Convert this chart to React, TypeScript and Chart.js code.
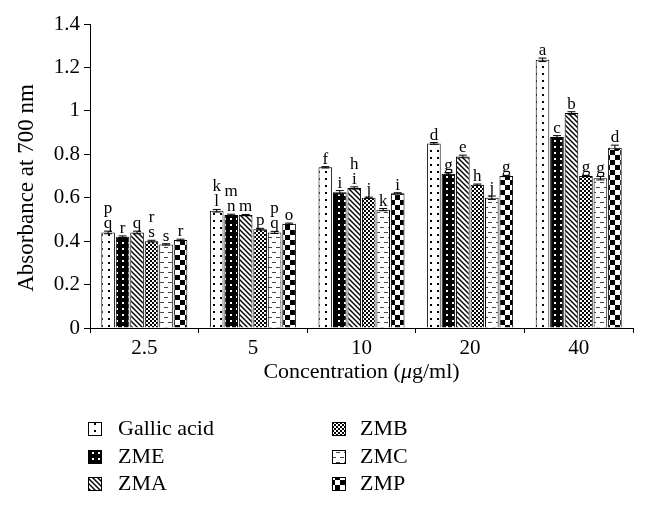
import React, { useEffect, useRef } from "react";
import { Chart, registerables } from "chart.js";

Chart.register(...registerables);

const categories = ["2.5", "5", "10", "20", "40"];
const seriesNames = ["Gallic acid", "ZME", "ZMA", "ZMB", "ZMC", "ZMP"];
const patternKinds = ["dotsWhite", "dotsBlack", "diag", "fineChecker", "dashes", "bigChecker"];

const gallicAcid = [0.44, 0.54, 0.74, 0.85, 1.235];
const zme = [0.42, 0.52, 0.625, 0.71, 0.88];
const zma = [0.44, 0.52, 0.645, 0.79, 0.99];
const zmb = [0.4, 0.455, 0.6, 0.66, 0.7];
const zmc = [0.385, 0.44, 0.545, 0.6, 0.69];
const zmp = [0.405, 0.48, 0.62, 0.7, 0.83];

const gallicAcidErr = [0.006, 0.006, 0.003, 0.004, 0.008];
const zmeErr = [0.004, 0.004, 0.008, 0.006, 0.006];
const zmaErr = [0.006, 0.003, 0.005, 0.006, 0.006];
const zmbErr = [0.004, 0.004, 0.003, 0.003, 0.003];
const zmcErr = [0.003, 0.005, 0.005, 0.008, 0.008];
const zmpErr = [0.004, 0.003, 0.003, 0.003, 0.012];

const gallicAcidLetters = [["p", "q"], ["k", "l"], ["f"], ["d"], ["a"]];
const zmeLetters = [["r"], ["m", "n"], ["i"], ["g"], ["c"]];
const zmaLetters = [["q"], ["m"], ["h", "i"], ["e"], ["b"]];
const zmbLetters = [["r", "s"], ["p"], ["j"], ["h"], ["g"]];
const zmcLetters = [["s"], ["p", "q"], ["k"], ["j"], ["g"]];
const zmpLetters = [["r"], ["o"], ["i"], ["g"], ["d"]];

const yTickValues = [0, 0.2, 0.4, 0.6, 0.8, 1, 1.2, 1.4];
const yTickLabels = ["0", "0.2", "0.4", "0.6", "0.8", "1", "1.2", "1.4"];

const seriesValues = [gallicAcid, zme, zma, zmb, zmc, zmp];
const seriesErrors = [gallicAcidErr, zmeErr, zmaErr, zmbErr, zmcErr, zmpErr];
const seriesLetters = [gallicAcidLetters, zmeLetters, zmaLetters, zmbLetters, zmcLetters, zmpLetters];

const FONT = '"Liberation Serif", "DejaVu Serif", serif';

function makePattern(kind: string): CanvasPattern | string {
  const c = document.createElement("canvas");
  const g = c.getContext("2d");
  if (!g) return "#fff";
  switch (kind) {
    case "dotsWhite": {
      c.width = 7; c.height = 7;
      g.fillStyle = "#fff"; g.fillRect(0, 0, 7, 7);
      g.fillStyle = "#000"; g.fillRect(3, 3, 2, 2);
      break;
    }
    case "dotsBlack": {
      c.width = 6; c.height = 6;
      g.fillStyle = "#000"; g.fillRect(0, 0, 6, 6);
      g.fillStyle = "#fff"; g.fillRect(2, 2, 2, 2);
      break;
    }
    case "diag": {
      c.width = 5; c.height = 5;
      g.fillStyle = "#fff"; g.fillRect(0, 0, 5, 5);
      g.strokeStyle = "#000"; g.lineWidth = 1.4;
      for (let k = -2; k <= 2; k++) {
        g.beginPath();
        g.moveTo(-1, -1 + k * 5);
        g.lineTo(6, 6 + k * 5);
        g.stroke();
      }
      break;
    }
    case "fineChecker": {
      c.width = 4; c.height = 4;
      g.fillStyle = "#000"; g.fillRect(0, 0, 4, 4);
      g.fillStyle = "#fff"; g.fillRect(0, 0, 2, 2); g.fillRect(2, 2, 2, 2);
      break;
    }
    case "dashes": {
      c.width = 8; c.height = 10;
      g.fillStyle = "#fff"; g.fillRect(0, 0, 8, 10);
      g.fillStyle = "#444"; g.fillRect(0, 2, 4, 1); g.fillRect(4, 7, 4, 1);
      break;
    }
    case "bigChecker": {
      c.width = 10; c.height = 10;
      g.fillStyle = "#fff"; g.fillRect(0, 0, 10, 10);
      g.fillStyle = "#000"; g.fillRect(0, 0, 5, 5); g.fillRect(5, 5, 5, 5);
      break;
    }
  }
  const p = g.createPattern(c, "repeat");
  return p || "#fff";
}

const annotationsPlugin = {
  id: "annotations",
  afterDatasetsDraw(chart: any) {
    const ctx = chart.ctx;
    const y = chart.scales.y;
    ctx.save();
    ctx.strokeStyle = "#000";
    ctx.lineWidth = 1;
    ctx.fillStyle = "#000";
    ctx.font = `17px ${FONT}`;
    ctx.textAlign = "center";
    ctx.textBaseline = "alphabetic";
    chart.data.datasets.forEach((ds: any, i: number) => {
      const meta = chart.getDatasetMeta(i);
      meta.data.forEach((bar: any, j: number) => {
        const v = seriesValues[i][j];
        const e = seriesErrors[i][j];
        const x = bar.x;
        const yt = y.getPixelForValue(v + e);
        const yb = y.getPixelForValue(v - e);
        ctx.beginPath();
        ctx.moveTo(x, yt); ctx.lineTo(x, yb);
        ctx.moveTo(x - 4, yt); ctx.lineTo(x + 4, yt);
        ctx.moveTo(x - 4, yb); ctx.lineTo(x + 4, yb);
        ctx.stroke();
        const letters = seriesLetters[i][j];
        let base = yt - 3;
        for (let k = letters.length - 1; k >= 0; k--) {
          ctx.fillText(letters[k], x, base);
          base -= 15;
        }
      });
    });
    ctx.restore();
  },
  afterDraw(chart: any) {
    const ctx = chart.ctx;
    const area = chart.chartArea;
    ctx.save();
    ctx.fillStyle = "#000";
    // Y title
    ctx.save();
    ctx.translate(27, 188);
    ctx.rotate(-Math.PI / 2);
    ctx.font = `23px ${FONT}`;
    ctx.textAlign = "center";
    ctx.textBaseline = "middle";
    ctx.fillText("Absorbance at 700 nm", 0, 0);
    ctx.restore();
    // X title with italic mu
    const parts = [
      { t: "Concentration (", f: `22px ${FONT}` },
      { t: "\u03bc", f: `italic 22px ${FONT}` },
      { t: "g/ml)", f: `22px ${FONT}` },
    ];
    let total = 0;
    parts.forEach((p) => { ctx.font = p.f; total += ctx.measureText(p.t).width; });
    let xx = (area.left + area.right) / 2 - total / 2;
    ctx.textBaseline = "middle";
    ctx.textAlign = "left";
    parts.forEach((p) => {
      ctx.font = p.f;
      ctx.fillText(p.t, xx, 372);
      xx += ctx.measureText(p.t).width;
    });
    // Legend: 2 columns, column-major
    const colSwatchX = [88, 332];
    const colTextX = [118, 360];
    const rowY = [429, 457, 484];
    ctx.font = `22px ${FONT}`;
    chart.data.datasets.forEach((ds: any, i: number) => {
      const col = Math.floor(i / 3);
      const row = i % 3;
      const sx = colSwatchX[col];
      const sy = rowY[row] - 7;
      ctx.fillStyle = ds.backgroundColor;
      ctx.fillRect(sx, sy, 13, 13);
      ctx.strokeStyle = "#000";
      ctx.lineWidth = 1;
      ctx.strokeRect(sx + 0.5, sy + 0.5, 13, 13);
      ctx.fillStyle = "#000";
      ctx.textBaseline = "middle";
      ctx.fillText(seriesNames[i], colTextX[col], rowY[row]);
    });
    ctx.restore();
  },
};

export default function App() {
  const ref = useRef<HTMLCanvasElement | null>(null);
  useEffect(() => {
    if (!ref.current) return;
    const datasets = seriesNames.map((name, i) => ({
      label: name,
      data: seriesValues[i],
      backgroundColor: makePattern(patternKinds[i]),
      borderColor: "#000",
      borderWidth: 1,
      categoryPercentage: 0.8,
      barPercentage: 0.94,
    }));
    const chart = new Chart(ref.current, {
      type: "bar",
      data: { labels: categories, datasets },
      options: {
        animation: false,
        responsive: false,
        maintainAspectRatio: false,
        layout: { padding: { top: 24, right: 15, left: 0, bottom: 0 } },
        font: { family: FONT },
        plugins: {
          legend: { display: false },
          tooltip: { enabled: false },
        },
        scales: {
          x: {
            type: "category",
            grid: { offset: true, drawOnChartArea: false, drawTicks: true, tickLength: 5, color: "#000" },
            border: { color: "#000", width: 1 },
            ticks: { color: "#000", font: { family: FONT, size: 21 }, padding: 3, maxRotation: 0 },
            afterFit: (s: any) => { s.height = 179; },
          },
          y: {
            min: 0,
            max: 1.4,
            afterBuildTicks: (s: any) => { s.ticks = yTickValues.map((v) => ({ value: v })); },
            grid: { drawOnChartArea: false, drawTicks: true, tickLength: 6, color: "#000" },
            border: { color: "#000", width: 1 },
            ticks: {
              color: "#000",
              font: { family: FONT, size: 21 },
              padding: 4,
              callback: (_v: any, idx: number) => yTickLabels[idx],
            },
            afterFit: (s: any) => { s.width = 90; },
          },
        },
      } as any,
      plugins: [annotationsPlugin],
    });
    return () => chart.destroy();
  }, []);
  return (
    <div style={{ position: "absolute", left: 0, top: 0, width: 648, height: 507, background: "#fff" }}>
      <canvas ref={ref} width={648} height={507} style={{ display: "block" }} />
    </div>
  );
}
